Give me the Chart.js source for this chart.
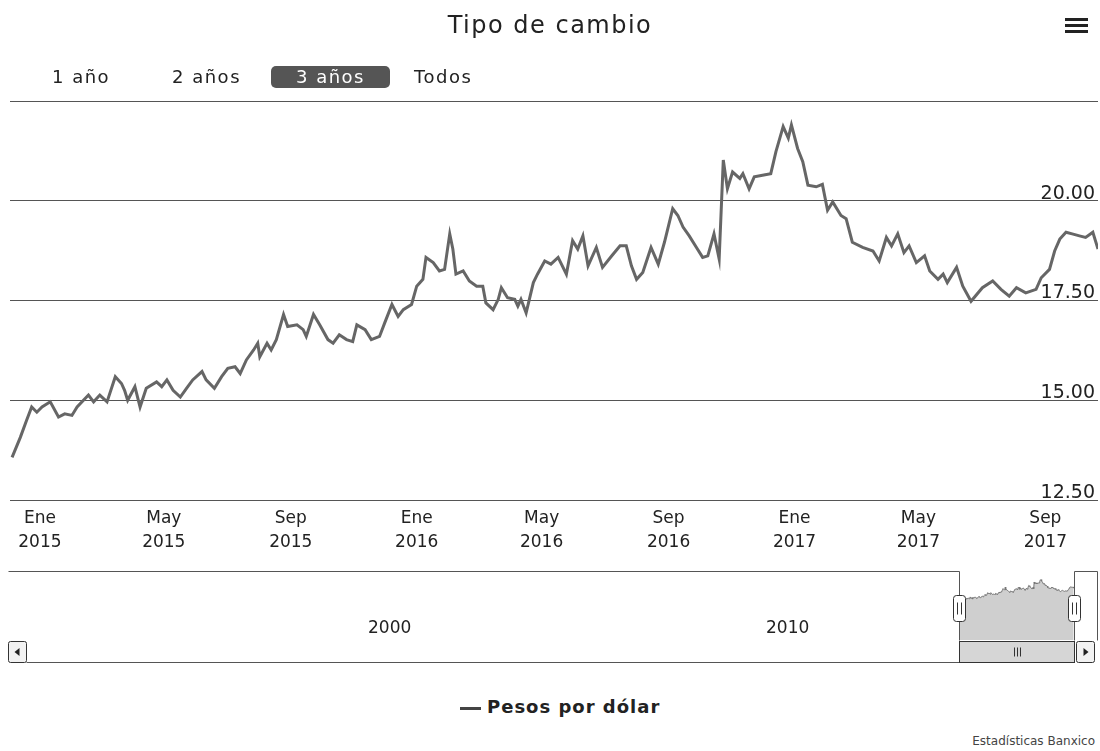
<!DOCTYPE html>
<html lang="es">
<head>
<meta charset="utf-8">
<title>Tipo de cambio</title>
<script src="https://cdn.jsdelivr.net/npm/chart.js@4.4.1/dist/chart.umd.min.js"></script>
<style>
  body { margin: 0; background: #fff; font-family: "DejaVu Sans", Verdana, sans-serif; color: #222; }
  #wrap { position: relative; width: 1100px; height: 751px; overflow: hidden; }
  canvas { position: absolute; left: 0; }
  #titulo { position: absolute; top: 11px; left: 0; width: 1100px; text-align: center; font-size: 24px; letter-spacing: 1.5px; }
  #menu { position: absolute; left: 1065px; top: 18px; width: 23px; }
  #menu span { display: block; height: 3px; background: #222; margin-bottom: 3px; }
  .rango { position: absolute; top: 66px; height: 22px; line-height: 22px; font-size: 18px; letter-spacing: 1.5px; }
  .rango.activo { background: #555; color: #fff; border-radius: 5px; text-align: center; width: 119px; }
  #leyenda { position: absolute; top: 696px; left: 460px; font-size: 18px; font-weight: bold; letter-spacing: 1px; }
  #leyenda i { display: inline-block; width: 21px; height: 3px; background: #444; vertical-align: middle; margin-right: 6px; }
  #creditos { position: absolute; top: 734px; right: 5px; font-size: 12px; color: #444; }
</style>
</head>
<body>
<div id="wrap">
  <canvas id="grafica" width="1100" height="560" style="top:0"></canvas>
  <canvas id="navegador" width="1100" height="110" style="top:560px"></canvas>
  <div id="titulo">Tipo de cambio</div>
  <div id="menu"><span></span><span></span><span></span></div>
  <span class="rango" style="left:52px">1 año</span>
  <span class="rango" style="left:172px">2 años</span>
  <span class="rango activo" style="left:271px">3 años</span>
  <span class="rango" style="left:414px">Todos</span>
  <div id="leyenda"><i></i>Pesos por dólar</div>
  <div id="creditos">Estadísticas Banxico</div>
</div>
<script>
// pesos por dolar, lecturas del grafico (dic 2014 - oct 2017)
const fechas = [
  '2014-12-05','2014-12-13','2014-12-19','2014-12-24','2014-12-29',
  '2015-01-03','2015-01-11','2015-01-19','2015-01-25','2015-02-01','2015-02-06','2015-02-17','2015-02-22','2015-02-28',
  '2015-03-07','2015-03-15','2015-03-21','2015-03-24','2015-03-27','2015-04-03','2015-04-08','2015-04-14','2015-04-24','2015-04-29',
  '2015-05-04','2015-05-10','2015-05-17','2015-05-23','2015-05-29','2015-06-07','2015-06-11','2015-06-19','2015-06-26',
  '2015-07-02','2015-07-09','2015-07-14','2015-07-20','2015-07-27','2015-07-31','2015-08-02','2015-08-09','2015-08-13','2015-08-18','2015-08-25','2015-08-29',
  '2015-09-07','2015-09-13','2015-09-16','2015-09-23','2015-09-29','2015-10-07','2015-10-12','2015-10-18','2015-10-25','2015-10-31',
  '2015-11-04','2015-11-12','2015-11-18','2015-11-26','2015-12-01','2015-12-08','2015-12-14','2015-12-19','2015-12-27',
  '2016-01-01','2016-01-07','2016-01-10','2016-01-17','2016-01-23','2016-01-28','2016-02-02','2016-02-05','2016-02-08','2016-02-15','2016-02-21','2016-02-28',
  '2016-03-05','2016-03-08','2016-03-15','2016-03-20','2016-03-23','2016-03-29','2016-04-05','2016-04-08','2016-04-11','2016-04-16','2016-04-23','2016-04-27',
  '2016-05-04','2016-05-10','2016-05-17','2016-05-25','2016-05-31','2016-06-05','2016-06-10','2016-06-15','2016-06-23','2016-06-29',
  '2016-07-08','2016-07-16','2016-07-22','2016-07-27','2016-08-01','2016-08-07','2016-08-15','2016-08-22','2016-08-28',
  '2016-09-05','2016-09-10','2016-09-15','2016-09-21','2016-09-28','2016-10-04','2016-10-09','2016-10-15','2016-10-20','2016-10-24','2016-10-28',
  '2016-11-02','2016-11-09','2016-11-12','2016-11-18','2016-11-23','2016-12-01','2016-12-09','2016-12-14','2016-12-21','2016-12-26','2016-12-29',
  '2017-01-04','2017-01-09','2017-01-14','2017-01-22','2017-01-28','2017-02-02','2017-02-07','2017-02-15','2017-02-20','2017-02-26',
  '2017-03-08','2017-03-18','2017-03-24','2017-03-31','2017-04-05','2017-04-11','2017-04-17','2017-04-22','2017-04-29',
  '2017-05-07','2017-05-12','2017-05-20','2017-05-25','2017-05-29','2017-06-07','2017-06-13','2017-06-21',
  '2017-07-02','2017-07-12','2017-07-20','2017-07-28','2017-08-04','2017-08-13','2017-08-23','2017-08-28',
  '2017-09-05','2017-09-10','2017-09-15','2017-09-21','2017-09-27','2017-10-04','2017-10-10','2017-10-17','2017-10-22'
];
const pesosPorDolar = [
  13.57, 14.07, 14.49, 14.83, 14.70,
  14.83, 14.96, 14.58, 14.66, 14.62, 14.83, 15.13, 14.96, 15.13,
  14.96, 15.59, 15.42, 15.25, 15.00, 15.34, 14.83, 15.30, 15.46, 15.34,
  15.51, 15.25, 15.08, 15.30, 15.51, 15.72, 15.51, 15.30, 15.59,
  15.80, 15.84, 15.67, 16.01, 16.26, 16.43, 16.09, 16.43, 16.26, 16.52, 17.15, 16.85,
  16.89, 16.77, 16.60, 17.15, 16.89, 16.52, 16.43, 16.64, 16.52, 16.47,
  16.89, 16.77, 16.52, 16.60, 16.94, 17.40, 17.10, 17.27, 17.40,
  17.86, 18.03, 18.58, 18.45, 18.24, 18.28, 19.17, 18.79, 18.16, 18.24, 17.99, 17.86,
  17.86, 17.44, 17.27, 17.53, 17.82, 17.57, 17.53, 17.36, 17.53, 17.19, 17.95, 18.16,
  18.49, 18.41, 18.58, 18.16, 19.00, 18.79, 19.12, 18.37, 18.83, 18.33,
  18.62, 18.87, 18.87, 18.37, 18.03, 18.20, 18.83, 18.41, 18.96,
  19.80, 19.63, 19.34, 19.12, 18.83, 18.58, 18.62, 19.17, 18.54, 21.02, 20.30,
  20.72, 20.56, 20.68, 20.30, 20.60, 20.64, 20.68, 21.23, 21.86, 21.57, 21.90,
  21.31, 20.98, 20.39, 20.35, 20.41, 19.76, 19.97, 19.63, 19.55, 18.96,
  18.83, 18.74, 18.49, 19.08, 18.87, 19.17, 18.70, 18.87, 18.45,
  18.62, 18.24, 18.03, 18.16, 17.95, 18.33, 17.86, 17.48,
  17.82, 17.99, 17.78, 17.61, 17.82, 17.69, 17.78, 18.07,
  18.28, 18.74, 19.04, 19.21, 19.17, 19.12, 19.08, 19.21, 18.79
];

// rango visible (3 años) y marcas del eje
const inicioVista = '2014-12-03';
const finVista = '2017-10-22';
const ticksMeses = ['2015-01-01','2015-05-01','2015-09-01','2016-01-01','2016-05-01','2016-09-01','2017-01-01','2017-05-01','2017-09-01'];
const etiquetasMeses = [['Ene','2015'],['May','2015'],['Sep','2015'],['Ene','2016'],['May','2016'],['Sep','2016'],['Ene','2017'],['May','2017'],['Sep','2017']];
const ticksY = [12.5, 15, 17.5, 20, 22.5];

// navegador
const inicioNavegador = '1991-01-30';
const finNavegador = '2018-06-02';
const ticksAnios = ['2000', '2010'];

const puntos = fechas.map((f, i) => ({ x: Date.parse(f), y: pesosPorDolar[i] }));
const fuente = 'DejaVu Sans';

new Chart(document.getElementById('grafica'), {
  type: 'line',
  data: {
    datasets: [{
      label: 'Pesos por dólar',
      data: puntos,
      borderColor: '#666',
      borderWidth: 3,
      pointRadius: 0,
      tension: 0,
      fill: false
    }]
  },
  options: {
    responsive: false,
    animation: false,
    devicePixelRatio: 1,
    layout: { padding: { top: 101, left: 10, right: 2, bottom: 0 } },
    plugins: { legend: { display: false }, tooltip: { enabled: false } },
    scales: {
      x: {
        type: 'linear',
        min: Date.parse(inicioVista),
        max: Date.parse(finVista),
        grid: { display: false, drawTicks: false },
        border: { display: false },
        afterBuildTicks: s => { s.ticks = ticksMeses.map(t => ({ value: Date.parse(t) })); },
        afterFit: s => { s.height = 60; },
        ticks: {
          autoSkip: false, maxRotation: 0, padding: 6, color: '#222',
          font: { family: fuente, size: 17, lineHeight: 1.45 },
          callback: (v, i) => etiquetasMeses[i]
        }
      },
      y: {
        position: 'right',
        min: 12.5,
        max: 22.5,
        afterBuildTicks: s => { s.ticks = ticksY.map(v => ({ value: v })); },
        afterFit: s => { s.width = 0; },
        grid: { color: '#555', lineWidth: 1, drawTicks: false },
        border: { display: false },
        ticks: {
          mirror: true, padding: -3, labelOffset: -7, color: '#222',
          font: { family: fuente, size: 19 },
          callback: v => v === 22.5 ? '' : v.toFixed(2)
        }
      }
    }
  }
});

// asas, barra de desplazamiento y contorno del navegador
const decoracionNavegador = {
  id: 'decoracionNavegador',
  afterDraw(chart) {
    const { ctx, chartArea: a, scales: { x } } = chart;
    const x1 = Math.round(x.getPixelForValue(Date.parse(inicioVista))) + 0.5;
    const x2 = Math.round(x.getPixelForValue(Date.parse(finVista))) + 0.5;
    const top = Math.round(a.top) + 0.5;
    const bottom = Math.round(a.bottom) + 0.5;
    const sbTop = bottom + 1, sbBottom = bottom + 22;
    const izq = Math.round(a.left) - 1.5, der = Math.round(a.right) - 0.5;

    ctx.save();
    ctx.strokeStyle = '#555';
    ctx.lineWidth = 1;
    ctx.beginPath();
    ctx.moveTo(izq, top); ctx.lineTo(x1, top); ctx.lineTo(x1, bottom);
    ctx.moveTo(x2, bottom); ctx.lineTo(x2, top); ctx.lineTo(der, top); ctx.lineTo(der, bottom);
    ctx.moveTo(izq + 18, sbBottom); ctx.lineTo(x1, sbBottom);
    ctx.stroke();

    // pulgar de la barra
    ctx.fillStyle = '#d6d6d6';
    ctx.fillRect(x1, sbTop, x2 - x1, sbBottom - sbTop);
    ctx.strokeStyle = '#333';
    ctx.strokeRect(x1, sbTop, x2 - x1, sbBottom - sbTop);
    const cx = Math.round((x1 + x2) / 2) + 0.5;
    ctx.beginPath();
    [-3, 0, 3].forEach(d => { ctx.moveTo(cx + d, sbTop + 6); ctx.lineTo(cx + d, sbBottom - 6); });
    ctx.stroke();

    // botones
    const boton = (bx, flecha) => {
      ctx.fillStyle = '#f2f2f2';
      ctx.beginPath();
      ctx.roundRect(bx, sbTop, 18, sbBottom - sbTop, 2);
      ctx.fill();
      ctx.stroke();
      ctx.fillStyle = '#222';
      const my = (sbTop + sbBottom) / 2, mx = bx + 9;
      ctx.beginPath();
      ctx.moveTo(mx - 2 * flecha, my - 4); ctx.lineTo(mx + 3 * flecha, my); ctx.lineTo(mx - 2 * flecha, my + 4);
      ctx.closePath();
      ctx.fill();
    };
    boton(izq, -1);
    boton(x2 + 2, 1);

    // asas
    const hy = top + 24;
    [x1, x2].forEach(hx => {
      ctx.fillStyle = '#fff';
      ctx.beginPath();
      ctx.roundRect(hx - 6, hy, 12, 26, 3);
      ctx.fill();
      ctx.stroke();
      ctx.beginPath();
      ctx.moveTo(hx - 2, hy + 7); ctx.lineTo(hx - 2, hy + 19);
      ctx.moveTo(hx + 2, hy + 7); ctx.lineTo(hx + 2, hy + 19);
      ctx.stroke();
    });
    ctx.restore();
  }
};

new Chart(document.getElementById('navegador'), {
  type: 'line',
  data: {
    datasets: [{
      data: puntos,
      borderColor: '#777',
      borderWidth: 1,
      backgroundColor: '#cfcfcf',
      fill: 'start',
      pointRadius: 0,
      tension: 0
    }]
  },
  options: {
    responsive: false,
    animation: false,
    devicePixelRatio: 1,
    layout: { padding: { top: 11, left: 10, right: 2, bottom: 0 } },
    plugins: { legend: { display: false }, tooltip: { enabled: false } },
    scales: {
      x: {
        type: 'linear',
        min: Date.parse(inicioNavegador),
        max: Date.parse(finNavegador),
        grid: { display: false, drawTicks: false },
        border: { display: false },
        afterBuildTicks: s => { s.ticks = ticksAnios.map(a => ({ value: Date.parse(a + '-01-01') })); },
        afterFit: s => { s.height = 30; },
        ticks: {
          mirror: true, autoSkip: false, maxRotation: 0, align: 'start', labelOffset: 3, padding: 1, color: '#222',
          font: { family: fuente, size: 17 },
          callback: (v, i) => ticksAnios[i]
        }
      },
      y: { display: false, min: 0, max: 25 }
    }
  },
  plugins: [decoracionNavegador]
});
</script>
</body>
</html>
